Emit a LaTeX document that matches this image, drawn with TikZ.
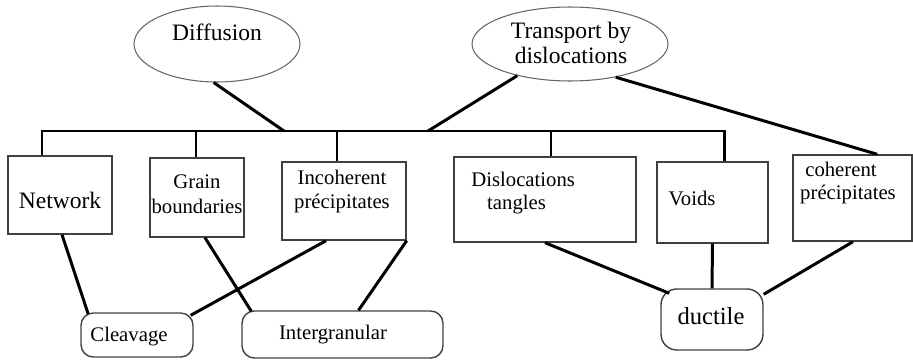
\documentclass[tikz,border=0pt]{standalone}
\usepackage{fontspec}
\setmainfont{Liberation Serif}
\usetikzlibrary{calc,shapes.geometric}

\begin{document}
\begin{tikzpicture}[x=0.02cm,y=-0.02cm,
	box/.style={draw=black!75, line width=0.8pt, inner sep=0pt},
	oval/.style={ellipse, draw=black!60, line width=0.6pt, inner sep=0pt},
	rbox/.style={box, rounded corners=7pt},
	link/.style={line width=1.7pt},
	txt/.style={inner sep=0pt, font=\fontsize{11.8}{13.1}\selectfont},
	big/.style={inner sep=0pt, font=\fontsize{13.4}{14.2}\selectfont}]
	\useasboundingbox (0,0) rectangle (913,359);

	% mechanisms
	\node (D) [oval, minimum width=3.32cm, minimum height=1.52cm] at (217,44) {};
	\node (T) [oval, minimum width=3.92cm, minimum height=1.48cm] at (570,44) {};
	\node (Dt) [big] at (217,32) {Diffusion};
	\node (Tt) [big, align=center] at (571,42.5) {Transport by\\dislocations};

	% sites
	\node (N) [box, minimum width=2.08cm, minimum height=1.56cm] at (60,195) {};
	\node (G) [box, minimum width=1.88cm, minimum height=1.58cm] at (197,197.5) {};
	\node (I) [box, minimum width=2.48cm, minimum height=1.56cm] at (344,201) {};
	\node (DT) [box, minimum width=3.64cm, minimum height=1.70cm] at (545,199.5) {};
	\node (V) [box, minimum width=2.22cm, minimum height=1.62cm] at (712.5,202.5) {};
	\node (C) [box, minimum width=2.38cm, minimum height=1.72cm] at (852.5,198) {};

	\node (Nt) [big] at (60,200) {Network};
	\node (Gt) [txt, align=center, font=\fontsize{11.8}{14.2}\selectfont] at (197,194.5) {Grain\\boundaries};
	\node (It) [txt, align=center] at (342,191.5) {Incoherent\\précipitates};
	\node (DTt) [txt, align=left, anchor=west] at (471,193.5) {Dislocations\\\hspace*{9pt}tangles};
	\node (Vt) [txt] at (692,198) {Voids};
	\node (Ct) [txt, align=center] at (848,183.5) {\hspace*{-8pt}coherent\\précipitates};

	% fracture modes
	\node (Cl) [rbox, minimum width=2.24cm, minimum height=0.88cm] at (137,335) {};
	\node (In) [rbox, minimum width=4.02cm, minimum height=0.94cm] at (342.5,334.5) {};
	\node (Du) [rbox, rounded corners=9pt, minimum width=2.04cm, minimum height=1.22cm] at (712,319.5) {};

	\node (Clt) [txt] at (129,337) {Cleavage};
	\node (Int) [txt] at (333,335) {Intergranular};
	\node (Dut) [inner sep=0pt, font=\fontsize{14}{16}\selectfont] at (711,316) {ductile};

	% bus
	\coordinate (b1) at (42,131);
	\coordinate (b2) at (196,131);
	\coordinate (b3) at (337,131);
	\coordinate (b4) at (551,131);
	\coordinate (b5) at (724,131);
	\coordinate (jd) at (284,131);
	\coordinate (jt) at (428,131);

	\draw [link] (b1 |- N.north) -- (b1) -- (b5) -- (b5 |- V.north);
	\draw [link] (b2) -- (b2 |- G.north);
	\draw [link] (b3) -- (b3 |- I.north);
	\draw [link] (b4) -- (b4 |- DT.north);

	\draw [link] (D.265) -- (jd);
	\draw [link] (T.211) -- (jt);
	\draw [link] (T.-36) -- ($(C.north west)+(85,0)$);

	% to fracture modes
	\draw [link] ($(N.south)+(2,0)$) -- ($(Cl.north west)+(8,2)$);
	\draw [link] ($(G.south)+(8,0)$) -- ($(In.north west)+(10,1)$);
	\draw [link] ($(I.south)+(-18,0)$) -- ($(Cl.north east)+(-3,3)$);
	\draw [link] (I.south east) -- ($(In.north)+(16,0)$);
	\draw [link] (DT.south) -- ($(Du.north west)+(9,5)$);
	\draw [link] (V.south) -- (Du.north);
	\draw [link] ($(C.south)+(0.5,0)$) -- ($(Du.north east)+(0,6)$);

\end{tikzpicture}
\end{document}
